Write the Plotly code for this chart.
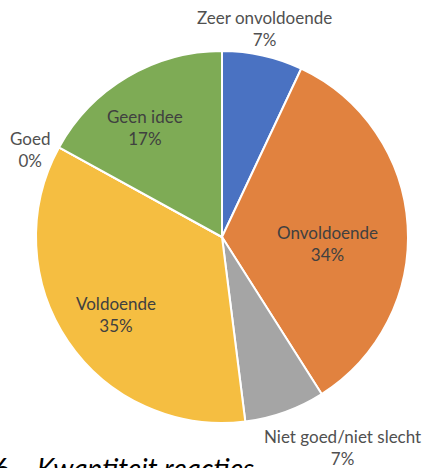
import plotly.graph_objects as go

labels = ["Zeer onvoldoende", "Onvoldoende", "Niet goed/niet slecht", "Voldoende", "Goed", "Geen idee"]
values = [7, 34, 7, 35, 0, 17]
percents = ["7%", "34%", "7%", "35%", "0%", "17%"]
colors = ["#4A72C2", "#E1823F", "#A5A5A5", "#F5BE41", "#F5BE41", "#7EAB55"]
caption_num = "6"
caption = "Kwantiteit reacties"

W, H = 423, 468
cx, cy, r = 222, 237, 186

# label centres in pixels (layout)
label_pos = [(264, 28), (327, 244), (342, 447), (116, 314), (30, 149), (145, 127)]
outside = [True, False, True, False, True, False]

fig = go.Figure(go.Pie(
    labels=labels, values=values, sort=False, direction="clockwise", rotation=0,
    marker=dict(colors=colors, line=dict(color="white", width=2)),
    textinfo="none",
    showlegend=False, hoverinfo="label+percent",
    domain=dict(x=[(cx - r) / W, (cx + r) / W], y=[(H - cy - r) / H, (H - cy + r) / H]),
))

for lab, p, (px, py), out in zip(labels, percents, label_pos, outside):
    fig.add_annotation(
        text=f"{lab}<br>{p}", x=px / W, y=(H - py) / H, xref="paper", yref="paper",
        xanchor="center", yanchor="middle", showarrow=False,
        font=dict(family="Lato", size=17, color="#505050" if out else "#404040"),
    )

fig.add_annotation(text="<i>" + caption + "</i>", x=35 / W, y=(H - 468) / H, xref="paper", yref="paper",
                   xanchor="left", yanchor="middle", showarrow=False,
                   font=dict(family="Lato", size=28, color="#000000"))
fig.add_annotation(text=caption_num, x=-8 / W, y=(H - 468) / H, xref="paper", yref="paper",
                   xanchor="left", yanchor="middle", showarrow=False,
                   font=dict(family="Lato", size=28, color="#000000"))

fig.update_layout(width=W, height=H, margin=dict(l=0, r=0, t=0, b=0),
                  paper_bgcolor="white", plot_bgcolor="white")
fig.write_html("out.html", config={"displayModeBar": False},
               post_script="document.body.style.margin='0';document.body.style.overflow='hidden';")
